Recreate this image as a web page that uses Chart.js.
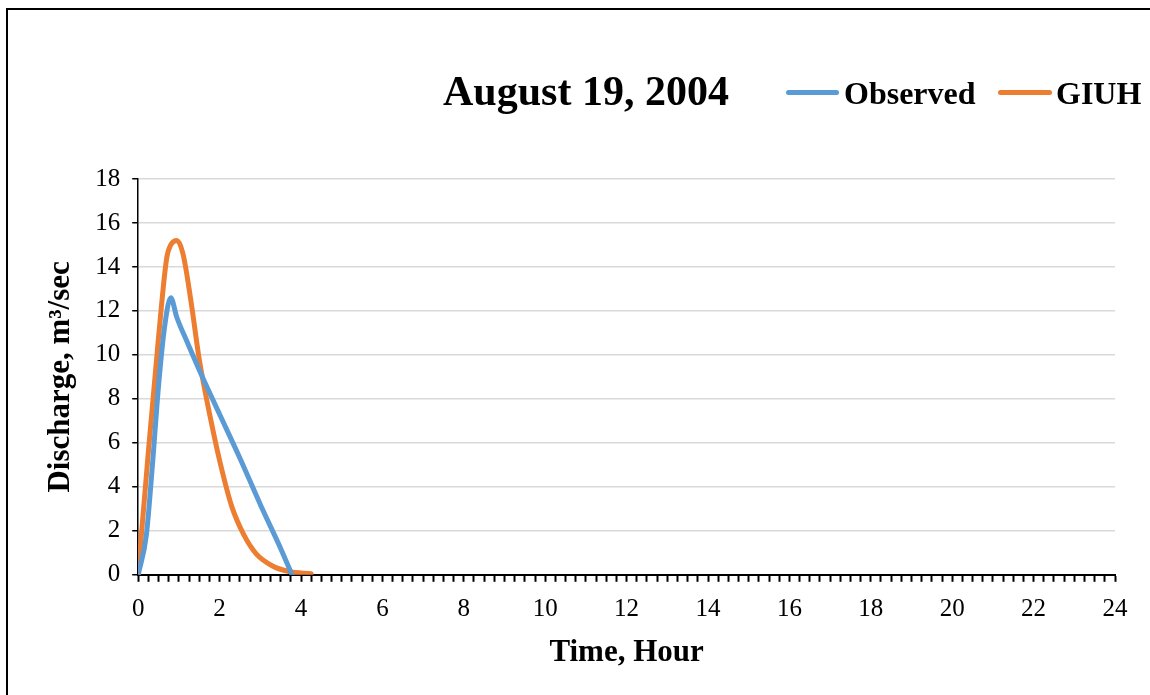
<!DOCTYPE html>
<html>
<head>
<meta charset="utf-8">
<script src="https://cdn.jsdelivr.net/npm/chart.js@4.4.1/dist/chart.umd.min.js"></script>
<style>
  html, body { margin: 0; padding: 0; background: #fff; }
  #wrap { position: relative; width: 1150px; height: 695px; overflow: hidden; }
  #frame { position: absolute; left: 6px; top: 8px; width: 1160px; height: 700px;
           border-left: 2px solid #000; border-top: 2px solid #000; }
  canvas { position: absolute; left: 0; top: 0; }
  .hdr { position: absolute; font-family: 'Liberation Serif', 'Times New Roman', serif;
         font-weight: bold; color: #000; line-height: 1; white-space: nowrap; }
  .key { position: absolute; height: 5px; border-radius: 3px; }
</style>
</head>
<body>
<div id="wrap">
  <div id="frame"></div>
  <canvas id="chart" width="1150" height="695"></canvas>
  <div class="hdr" id="title" style="left:443px; top:70px; font-size:42px;">August 19, 2004</div>
  <div class="key" style="left:786px; top:90px; width:53px; background:#5b9bd5;"></div>
  <div class="hdr" style="left:844px; top:77px; font-size:32px;">Observed</div>
  <div class="key" style="left:998px; top:90px; width:54px; background:#ed7d31;"></div>
  <div class="hdr" style="left:1056px; top:77px; font-size:32px;">GIUH</div>
</div>
<script>
// time in hours, discharge in m3/sec
const obsTime = [0, 0.2, 0.35, 0.5, 0.65, 0.8, 0.95, 1.2, 1.6, 2.0, 2.5, 3.0, 3.5, 3.78];
const obsFlow = [0, 1.8, 5.0, 8.6, 11.3, 12.6, 11.7, 10.6, 8.9, 7.3, 5.3, 3.2, 1.2, 0];

const giuhTime = [0, 0.1, 0.25, 0.5, 0.7, 0.8, 0.95, 1.1, 1.3, 1.5, 1.8, 2.0, 2.3, 2.6, 2.9, 3.3, 3.7, 4.25];
const giuhFlow = [0, 2.3, 5.6, 10.8, 14.4, 15.0, 15.2, 14.6, 12.4, 9.8, 6.9, 5.2, 3.1, 1.8, 0.95, 0.4, 0.15, 0.05];

const xMin = 0, xMax = 24, xMinorStep = 0.25, xLabelStep = 2;
const yMin = 0, yMax = 18, yStep = 2;

const serif = "'Liberation Serif', 'Times New Roman', serif";

const toPoints = (xs, ys) => xs.map((x, i) => ({ x, y: ys[i] }));

new Chart(document.getElementById('chart'), {
  type: 'line',
  data: {
    datasets: [
      {
        label: 'Observed',
        data: toPoints(obsTime, obsFlow),
        borderColor: '#5b9bd5',
        borderWidth: 5,
        pointRadius: 0,
        cubicInterpolationMode: 'monotone',
        borderCapStyle: 'round',
        borderJoinStyle: 'round'
      },
      {
        label: 'GIUH',
        data: toPoints(giuhTime, giuhFlow),
        borderColor: '#ed7d31',
        borderWidth: 5,
        pointRadius: 0,
        cubicInterpolationMode: 'monotone',
        borderCapStyle: 'round',
        borderJoinStyle: 'round'
      }
    ]
  },
  options: {
    responsive: false,
    animation: false,
    layout: { padding: { left: 42, right: 35, top: 179, bottom: 23 } },
    plugins: {
      legend: { display: false },
      tooltip: { enabled: false }
    },
    scales: {
      x: {
        type: 'linear',
        min: xMin,
        max: xMax,
        border: { display: true, color: '#000', width: 2 },
        grid: { drawOnChartArea: false, color: '#000', tickLength: 7, tickWidth: 2 },
        ticks: {
          stepSize: xMinorStep,
          autoSkip: false,
          maxRotation: 0,
          color: '#000',
          padding: 13,
          font: { family: serif, size: 25 },
          callback: v => (Math.abs(v % xLabelStep) < 1e-9 ? String(v) : '')
        },
        title: {
          display: true,
          text: 'Time, Hour',
          color: '#000',
          padding: { top: -3, bottom: 0 },
          font: { family: serif, size: 31, weight: 'bold' }
        }
      },
      y: {
        min: yMin,
        max: yMax,
        border: { display: true, color: '#000', width: 1.5 },
        grid: { color: '#d9d9d9', lineWidth: 1.5, tickColor: '#000', tickLength: 6 },
        ticks: {
          stepSize: yStep,
          color: '#000',
          padding: 12,
          font: { family: serif, size: 25 }
        },
        title: {
          display: true,
          text: 'Discharge, m³/sec',
          color: '#000',
          padding: { top: 0, bottom: 4 },
          font: { family: serif, size: 31, weight: 'bold' }
        }
      }
    }
  }
});
</script>
</body>
</html>
